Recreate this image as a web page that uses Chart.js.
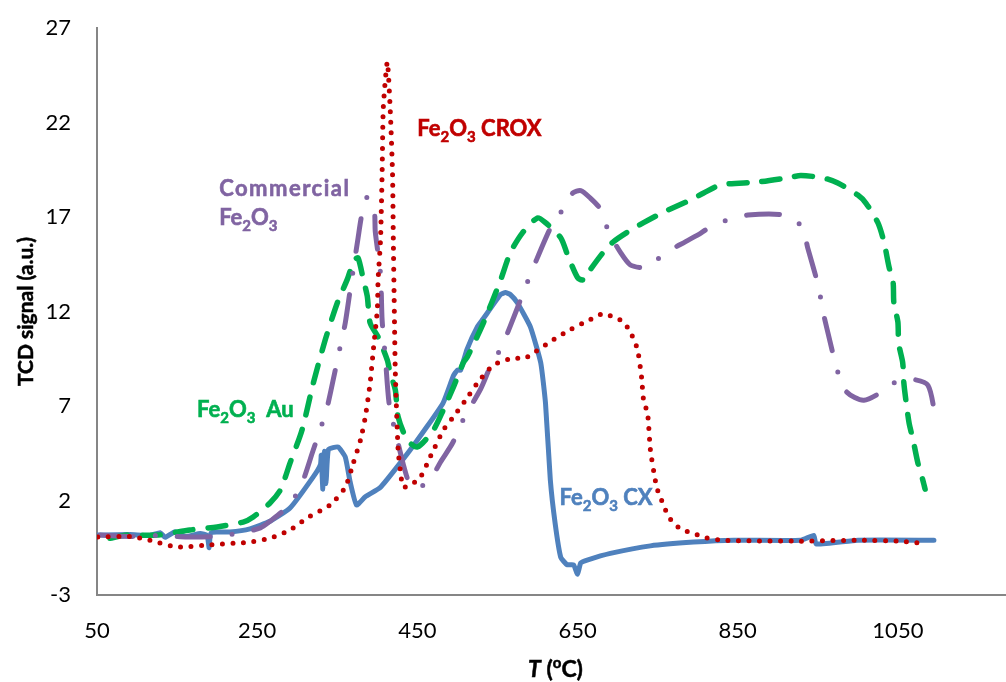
<!DOCTYPE html>
<html>
<head>
<meta charset="utf-8">
<script src="https://cdn.jsdelivr.net/npm/chart.js@4"></script>
<style>
html,body{margin:0;padding:0;background:#fff;}
#wrap{width:1006px;height:682px;position:relative;}
</style>
</head>
<body>
<div id="wrap"><canvas id="c" width="1006" height="682"></canvas></div>
<script>
// ---- data (temperature in °C, TCD signal in a.u.) ----
const xTicks = [50, 250, 450, 650, 850, 1050];
const yTicks = [-3, 2, 7, 12, 17, 22, 27];

const cxT = [50,91,116,129,135,147.5,160,179,187.5,190,192.5,216,241,266,291,320,329,330,332,334,336,339,351,360,366,374,385,404,441,482,495,500,504,512,525,532,554,560,566,575,591,604,610,616,622,629,637,645,650,654,662,691,741,795,845,929,945,948,1000,1095];
const cxSignal = [0.17,0.2,0.15,0.3,0.05,0.35,0.1,0.25,0.15,-0.5,0.3,0.33,0.5,0.9,1.6,3.25,3.9,4.4,2.6,4.6,2.9,4.7,4.83,4.3,3.0,1.76,2.2,2.7,4.67,7.15,8.6,8.9,8.9,10.0,11.2,11.6,12.9,13.0,12.9,12.45,11.2,9.3,7.15,3.1,0.8,-1.0,-1.4,-1.4,-1.9,-1.3,-1.15,-0.8,-0.4,-0.2,-0.1,-0.1,0.15,-0.3,-0.1,-0.1];

const croxT = [51,91,116,150,191,225,241,266,291,312,341,360,370,379,385,391,395,400,401,404,406,407.5,412.5,416,419,420,421,422.5,426,429,432.5,444,454,466,482.5,495,510,526,545,570,582.5,595,616,639,662.5,682.5,695,707.5,716,722.5,726,730,732.5,737.5,741,747.5,751,757.5,762.5,770,781,794,806,829,929,1004,1054,1079,1085];
const croxSignal = [0.07,0.1,-0.1,-0.46,-0.35,-0.25,-0.2,0.0,0.44,1.07,1.76,2.7,3.98,5.2,6.42,8.2,9.96,12.08,13.7,15.8,19.3,22.8,25.2,22.8,19.3,15.8,12.8,8.75,4.67,3.5,2.7,2.9,3.24,4.3,5.73,6.42,7.3,8.27,9.17,9.54,9.5,9.8,10.4,11.0,11.5,11.9,11.7,11.45,10.9,10.3,9.75,8.5,7.3,6.6,4.67,2.98,2.4,1.76,1.23,0.8,0.44,0.28,0.07,-0.1,-0.15,-0.1,-0.15,-0.25,-0.1];

const commT = [54,91,129,162.5,197.5,229,254,266,287.5,304,320,329,337.5,347.5,354,360,366,376,381,387.5,396,397.5,404,406,410,415,425,432.5,439,445,451,466,479,494,507.5,529,541,556,575,585,595,616,630,644,654,666,679,689,704,716,732.5,737.5,760,785,804,820,839,862.5,907.5,930,937.5,951,956,962.5,975,986,1007.5,1037.5,1044,1065,1087.5,1097.5];
const commSignal = [0.17,0.1,0.15,0.07,0.1,0.28,0.55,0.9,1.66,2.7,4.67,5.8,6.95,8.9,10.2,11.4,13.1,15.9,17.2,18.05,17.4,16.2,14.0,11.55,9.6,7.05,5.2,3.9,3.0,2.7,2.66,3.1,4.04,5.04,6.3,7.9,9.06,10.2,12.2,13.3,14.35,16.4,17.3,18.27,18.4,18.0,17.4,16.2,15.1,14.46,14.3,14.35,15.1,15.7,16.15,16.6,16.85,17.1,17.1,16.5,15.35,13.3,12.1,10.9,8.8,7.74,7.3,7.95,8.2,8.43,8.1,6.2];

const auT = [66,87.5,125,166,200,232.5,245,266,279,291,306,320,335,350,362.5,371,376,382.5,387.5,391,401,412.5,416,422.5,426,437.5,450,470,482.5,495,507.5,512.5,532.5,554,566,581,600,610,629,637.5,650,657.5,664,682.5,695,716,732.5,757.5,791,807.5,829,875,916,929,957.5,975,1000,1010,1025,1032.5,1039,1044,1045,1050,1051,1056,1057.5,1060,1064,1069,1075,1081,1084];
const auSignal = [0.0,0.17,0.17,0.44,0.6,0.86,1.13,1.87,2.56,3.98,5.73,8.2,10.5,12.45,13.7,14.7,14.83,13.7,12.8,11.4,10.65,9.43,8.75,7.85,6.42,5.2,4.83,5.73,6.8,8.0,9.3,9.6,11.4,13.67,15.1,16.15,16.95,16.7,15.9,15.0,13.8,13.67,14.1,15.15,15.7,16.3,16.7,17.26,17.9,18.27,18.7,18.85,19.1,19.2,19.06,18.8,18.16,17.74,16.7,15.7,14.35,13.56,12.45,11.45,10.3,9.3,8.2,7.3,6.1,5.2,3.98,3.1,2.6];

const seriesNames = ['Fe2O3 CROX', 'Commercial Fe2O3', 'Fe2O3 Au', 'Fe2O3 CX'];

function pts(xs, ys){ return xs.map((x,i)=>({x:x, y:ys[i]})); }

const FONT = 'Lato, "Open Sans", sans-serif';
const C_BLUE = '#4F81BD', C_RED = '#C00000', C_PURPLE = '#8064A2', C_GREEN = '#00B050';

// in-chart labels with sub/superscripts
const labelPlugin = {
  id: 'labels',
  afterDatasetsDraw(chart){
    const ctx = chart.ctx;
    const xs = chart.scales.x, ys = chart.scales.y;
    function rich(parts, x, y, color, size, spacing){
      ctx.save();
      ctx.fillStyle = color;
      ctx.strokeStyle = color;
      ctx.lineWidth = 0.6;
      ctx.textBaseline = 'alphabetic';
      ctx.textAlign = 'left';
      if (spacing) ctx.letterSpacing = spacing;
      let cx = x;
      for (const [t, kind] of parts){
        let yy = y;
        if (kind === 'sub'){
          ctx.font = 'bold ' + Math.round(size*0.68) + 'px ' + FONT;
          yy = y + size*0.26;
        } else {
          ctx.font = 'bold ' + size + 'px ' + FONT;
        }
        ctx.fillText(t, cx, yy);
        ctx.strokeText(t, cx, yy);
        cx += ctx.measureText(t).width;
      }
      ctx.restore();
    }
    const fe = [['Fe',''],['2','sub'],['O',''],['3','sub']];
    const P = (vx, vy) => [xs.getPixelForValue(vx), ys.getPixelForValue(vy)];
    let p;
    p = P(450, 21.29); rich(fe.concat([[' CROX','']]), p[0], p[1], C_RED, 22);
    p = P(202.5, 18.11); rich([['Commercial','']], p[0], p[1], C_PURPLE, 22, '1.5px');
    p = P(202.5, 16.58); rich(fe, p[0], p[1], C_PURPLE, 22);
    p = P(175, 6.42); rich(fe.concat([['  Au','']]), p[0], p[1], C_GREEN, 22);
    p = P(627.5, 1.76); rich(fe.concat([[' CX','']]), p[0], p[1], C_BLUE, 22);

    // axis titles
    const ca = chart.chartArea;
    ctx.save();
    ctx.fillStyle = '#000';
    ctx.strokeStyle = '#000';
    ctx.lineWidth = 0.5;
    ctx.textBaseline = 'middle';
    ctx.textAlign = 'center';
    ctx.font = 'bold 21px ' + FONT;
    ctx.translate(26, (ca.top + ca.bottom)/2);
    ctx.rotate(-Math.PI/2);
    ctx.fillText('TCD signal (a.u.)', 0, 0);
    ctx.strokeText('TCD signal (a.u.)', 0, 0);
    ctx.restore();

    ctx.save();
    ctx.fillStyle = '#000';
    ctx.strokeStyle = '#000';
    ctx.lineWidth = 0.5;
    ctx.textBaseline = 'alphabetic';
    ctx.textAlign = 'left';
    const parts = [['T','bi'],[' (',''],['o','sup'],['C)','']];
    const fontFor = k => k==='bi' ? 'italic bold 23px ' + FONT : (k==='sup' ? 'bold 15px ' + FONT : 'bold 23px ' + FONT);
    let w = 0;
    for (const [t,k] of parts){ ctx.font = fontFor(k); w += ctx.measureText(t).width; }
    let cx = (ca.left + ca.right)/2 - w/2 + 4;
    const by = 677;
    for (const [t,k] of parts){
      ctx.font = fontFor(k);
      const yy = k==='sup' ? by - 9 : by;
      ctx.fillText(t, cx, yy);
      ctx.strokeText(t, cx, yy);
      cx += ctx.measureText(t).width;
    }
    ctx.restore();
  }
};

const common = { showLine: true, pointRadius: 0, pointHoverRadius: 0, fill: false, tension: 0.25, borderJoinStyle: 'round' };

new Chart(document.getElementById('c'), {
  type: 'scatter',
  data: {
    datasets: [
      Object.assign({}, common, { label: seriesNames[0], data: pts(croxT, croxSignal), borderColor: C_RED, borderWidth: 5, borderDash: [0, 10.5], borderCapStyle: 'round', tension: 0.2 }),
      Object.assign({}, common, { label: seriesNames[1], data: pts(commT, commSignal), borderColor: C_PURPLE, borderWidth: 5, borderDash: [33, 22, 0, 22], borderCapStyle: 'round' }),
      Object.assign({}, common, { label: seriesNames[2], data: pts(auT, auSignal), borderColor: C_GREEN, borderWidth: 5.5, borderDash: [18, 15], borderCapStyle: 'round' }),
      Object.assign({}, common, { label: seriesNames[3], data: pts(cxT, cxSignal), borderColor: C_BLUE, borderWidth: 5, borderCapStyle: 'round', tension: 0.15 })
    ]
  },
  options: {
    responsive: false,
    animation: false,
    devicePixelRatio: 1,
    layout: { padding: { top: 28, right: 0, left: 0, bottom: 0 } },
    plugins: { legend: { display: false }, tooltip: { enabled: false }, title: { display: false } },
    scales: {
      x: {
        type: 'linear', min: 50, max: 1185,
        afterBuildTicks: s => { s.ticks = xTicks.map(v => ({ value: v })); },
        afterFit: s => { s.height = 87; s.paddingLeft = 0; s.paddingRight = 0; },
        grid: { display: false, drawTicks: false },
        border: { display: true, color: '#868686', width: 2 },
        ticks: { color: '#000', font: { family: FONT, size: 22 }, padding: 23, maxRotation: 0, autoSkip: false, callback: v => String(v) }
      },
      y: {
        type: 'linear', min: -3, max: 27,
        afterBuildTicks: s => { s.ticks = yTicks.map(v => ({ value: v })); },
        afterFit: s => { s.width = 97; s.paddingTop = 0; s.paddingBottom = 0; },
        grid: { display: false, drawTicks: false },
        border: { display: true, color: '#868686', width: 2 },
        ticks: { color: '#000', font: { family: FONT, size: 22 }, padding: 26, callback: v => String(v) }
      }
    }
  },
  plugins: [labelPlugin]
});
</script>
</body>
</html>
